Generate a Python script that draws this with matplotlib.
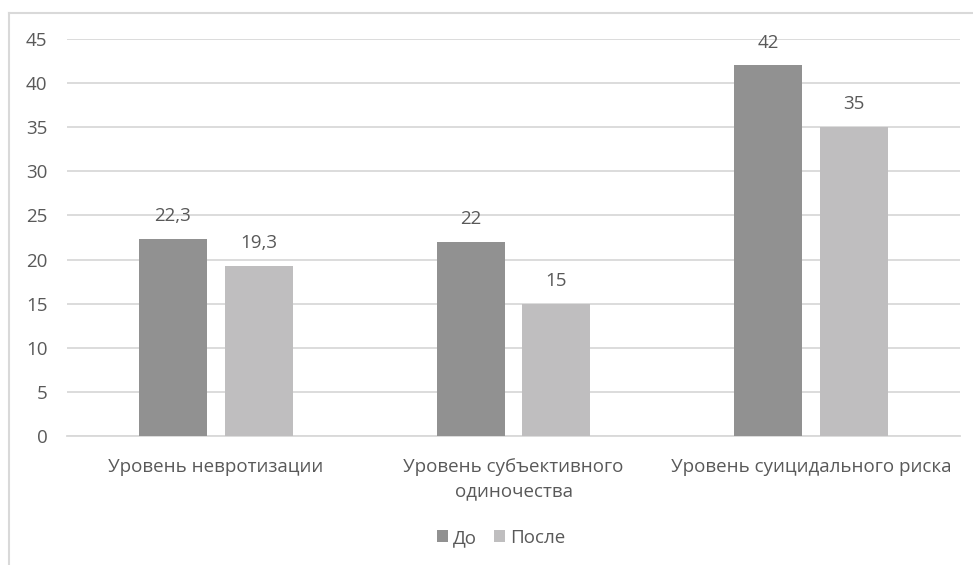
import matplotlib
matplotlib.use("Agg")
import matplotlib.pyplot as plt
from matplotlib.lines import Line2D
import numpy as np

categories = ["Уровень невротизации", "Уровень субъективного\nодиночества", "Уровень суицидального риска"]
before = [22.3, 22, 42]
after = [19.3, 15, 35]
series_names = ["До", "После"]
yticks = [0, 5, 10, 15, 20, 25, 30, 35, 40, 45]

plt.rcParams['font.family'] = ['Open Sans', 'DejaVu Sans']
text_color = '#595959'
fs = 13.5

fig = plt.figure(figsize=(9.73, 5.65), dpi=100)
ax = fig.add_axes([67/973, 1-436/565, (960-67)/973, (436-39)/565])

x = np.arange(len(categories))
w = 0.228
off = 0.144
b1 = ax.bar(x - off, before, w, color='#919191', label=series_names[0], zorder=3)
b2 = ax.bar(x + off, after, w, color='#bfbebf', label=series_names[1], zorder=3)

def fmt(v):
    s = f"{v:g}"
    return s.replace('.', ',')

for bars, vals in ((b1, before), (b2, after)):
    for rect, v in zip(bars, vals):
        ax.annotate(fmt(v), (rect.get_x() + rect.get_width()/2, v), xytext=(0, 10),
                    textcoords='offset points', ha='center', va='bottom',
                    fontsize=fs, color=text_color)

ax.set_xlim(-0.5, 2.5)
ax.set_ylim(0, 45)
ax.set_yticks(yticks)
ax.set_yticklabels([str(t) for t in yticks])
ax.set_xticks(x)
ax.set_xticklabels(categories, linespacing=1.45)
ax.tick_params(axis='both', length=0, labelsize=fs, labelcolor=text_color)
ax.tick_params(axis='y', pad=14)
ax.tick_params(axis='x', pad=16)
ax.grid(axis='y', color='#d9d9d9', linewidth=1.3, zorder=0)
for s in ['top', 'right', 'left']:
    ax.spines[s].set_visible(False)
ax.spines['bottom'].set_color('#d9d9d9')
ax.spines['bottom'].set_linewidth(1.3)

leg = fig.legend(loc='center', bbox_to_anchor=(501/973, 1-538/565), ncol=2, frameon=False,
                 fontsize=fs, handlelength=0.6, handleheight=0.6, handletextpad=0.25,
                 columnspacing=0.9, labelcolor=text_color)

fig.add_artist(Line2D([9/973, 9/973], [0, 1-13/565], transform=fig.transFigure, color='#d9d9d9', linewidth=1.5))
fig.add_artist(Line2D([9/973, 1], [1-13/565, 1-13/565], transform=fig.transFigure, color='#d9d9d9', linewidth=1.5))

fig.savefig("out.png", dpi=100)
